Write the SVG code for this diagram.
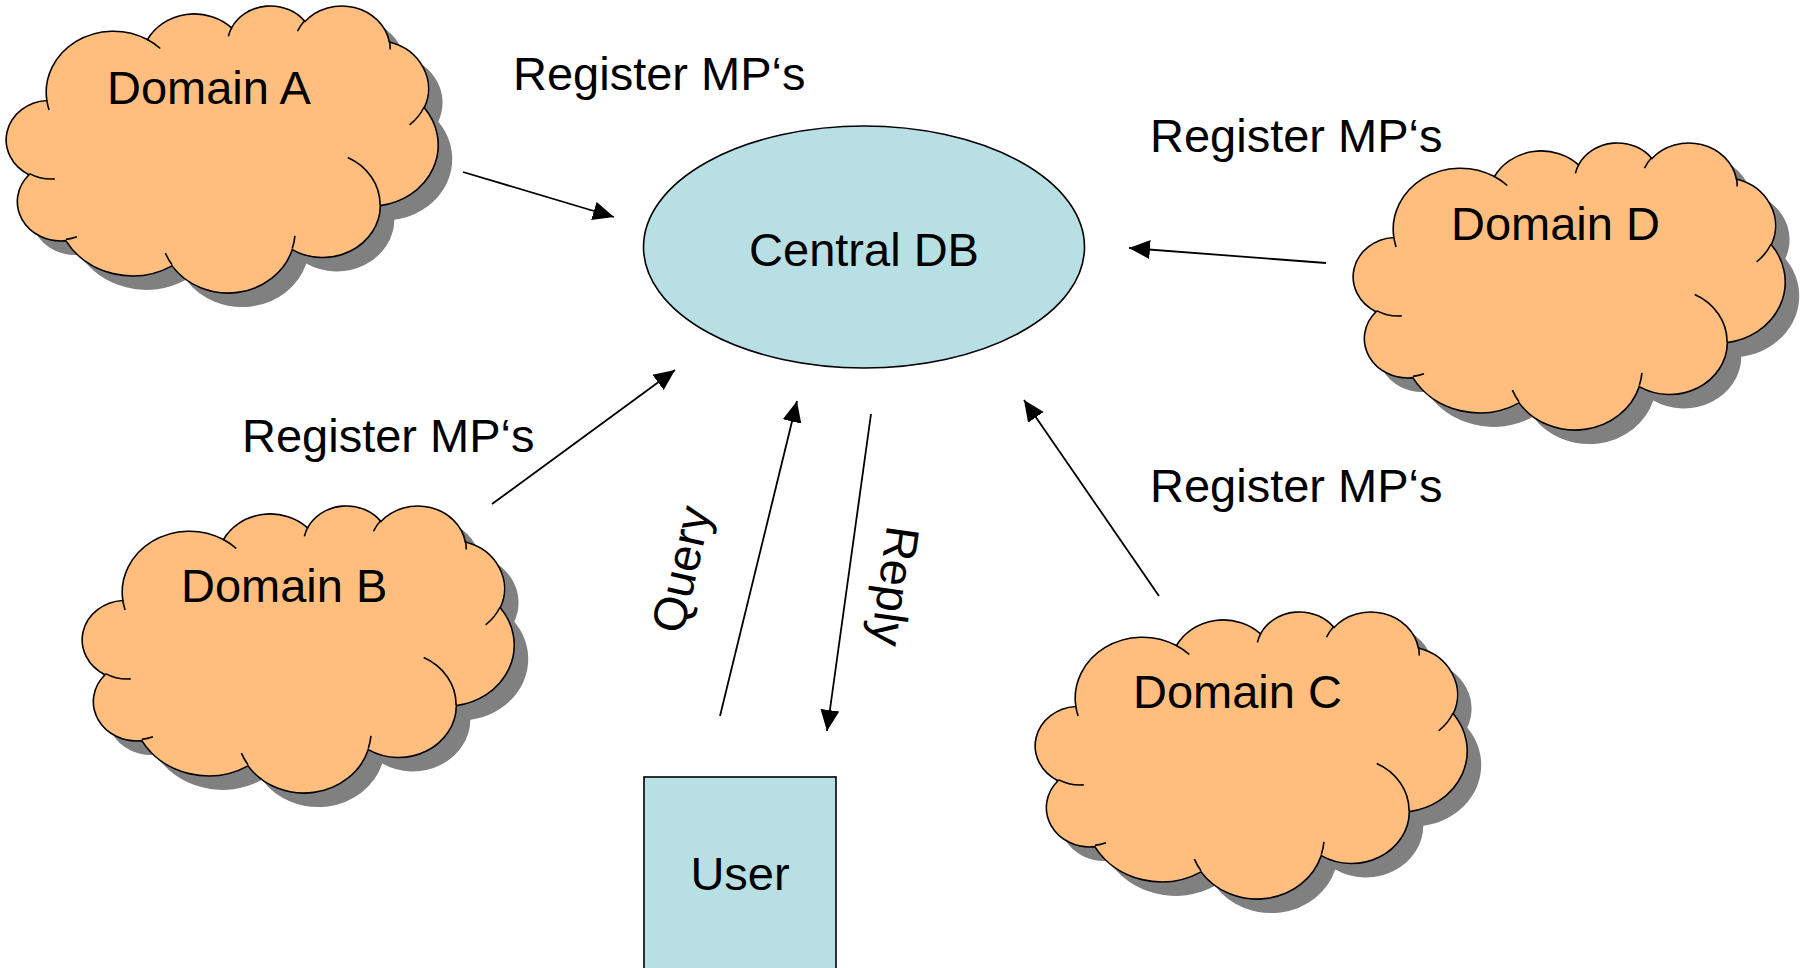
<svg xmlns="http://www.w3.org/2000/svg" xmlns:xlink="http://www.w3.org/1999/xlink" width="1804" height="968" viewBox="0 0 1804 968">
<style>
  text { font-family: "Liberation Sans", Arial, sans-serif; fill: #000; }
  .lbl { font-size: 47px; }
  .rot { font-size: 47px; }
  .cloud { fill: #FFBE7D; stroke: #000; stroke-width: 1.6; }
  .shadow { fill: #808080; stroke: none; }
  .crease { fill: none; stroke: #000; stroke-width: 1.6; }
  .conn { stroke: #000; stroke-width: 1.8; fill: none; marker-end: url(#arrow); }
  .blue { fill: #B8DFE3; stroke: #000; stroke-width: 1.6; }
</style>
<defs>
  <marker id="arrow" markerUnits="userSpaceOnUse" markerWidth="22" markerHeight="20" refX="21" refY="10" orient="auto">
    <path d="M0,0.5 L21,10 L0,19.5 z" fill="#000"/>
  </marker>
  <path id="cloudShape" vector-effect="non-scaling-stroke" d="M3900 14370 A6753 9190 0 0 1 14006 5203 A5333 7267 0 0 1 22460 3434 A4365 5945 0 0 1 29836 2483 A4857 6595 0 0 1 38321 5578 A5333 7273 0 0 1 41821 15462 A6775 9220 0 0 1 37406 30203 A5785 7867 0 0 1 28559 36814 A6752 9215 0 0 1 16483 39267 A7720 10543 0 0 1 5807 35472 A4360 5918 0 0 1 2115 25550 A4345 5945 0 0 1 3900 14370 Z"/>
  <path id="cloudCreases" vector-effect="non-scaling-stroke" d="M4693 26177 A4345 5945 0 0 1 2159 25379 M6928 34899 A4360 5918 0 0 1 5820 35281 M16478 39090 A6752 9215 0 0 1 15810 37349 M28827 34751 A6752 9215 0 0 1 28561 36659 M34129 22954 A5785 7867 0 0 1 37380 30089 M41798 15354 A5333 7273 0 0 1 40350 18031 M38324 5426 A4857 6595 0 0 1 38400 6690 M29078 3952 A4857 6595 0 0 1 29820 2340 M22141 4720 A4365 5945 0 0 1 22500 3330 M14000 5192 A6753 9190 0 0 1 15302 6544 M4127 15789 A6753 9190 0 0 1 3900 14371"/>
</defs>

<g id="domain-a">
  <use xlink:href="#cloudShape" class="shadow" transform="translate(22,19) scale(0.0099537,0.0066435)"/>
  <use xlink:href="#cloudShape" class="cloud" transform="translate(8,5) scale(0.0099537,0.0066435)"/>
  <use xlink:href="#cloudCreases" class="crease" transform="translate(8,5) scale(0.0099537,0.0066435)"/>
  <text class="lbl" x="107" y="104">Domain A</text>
</g>

<g id="domain-d">
  <use xlink:href="#cloudShape" class="shadow" transform="translate(1369,156) scale(0.0099537,0.0066435)"/>
  <use xlink:href="#cloudShape" class="cloud" transform="translate(1355,142) scale(0.0099537,0.0066435)"/>
  <use xlink:href="#cloudCreases" class="crease" transform="translate(1355,142) scale(0.0099537,0.0066435)"/>
  <text class="lbl" x="1451" y="240">Domain D</text>
</g>

<g id="domain-b">
  <use xlink:href="#cloudShape" class="shadow" transform="translate(98,519) scale(0.0099537,0.0066435)"/>
  <use xlink:href="#cloudShape" class="cloud" transform="translate(84,505) scale(0.0099537,0.0066435)"/>
  <use xlink:href="#cloudCreases" class="crease" transform="translate(84,505) scale(0.0099537,0.0066435)"/>
  <text class="lbl" x="181" y="602">Domain B</text>
</g>

<g id="domain-c">
  <use xlink:href="#cloudShape" class="shadow" transform="translate(1051,625) scale(0.0099537,0.0066435)"/>
  <use xlink:href="#cloudShape" class="cloud" transform="translate(1037,611) scale(0.0099537,0.0066435)"/>
  <use xlink:href="#cloudCreases" class="crease" transform="translate(1037,611) scale(0.0099537,0.0066435)"/>
  <text class="lbl" x="1133" y="708">Domain C</text>
</g>

<g id="central-db">
  <ellipse class="blue" cx="864" cy="247" rx="220.5" ry="121"/>
  <text class="lbl" x="864" y="266" text-anchor="middle">Central DB</text>
</g>

<g id="user">
  <rect class="blue" x="644" y="777" width="192" height="210"/>
  <text class="lbl" x="740" y="890" text-anchor="middle">User</text>
</g>

<g id="connectors">
  <line class="conn" x1="463" y1="172" x2="614" y2="217"/>
  <line class="conn" x1="1326" y1="263" x2="1129" y2="248"/>
  <line class="conn" x1="492" y1="504" x2="675" y2="370"/>
  <line class="conn" x1="1159" y1="596" x2="1024" y2="400"/>
  <line class="conn" x1="720" y1="716" x2="797" y2="401"/>
  <line class="conn" x1="871" y1="414" x2="827" y2="731"/>
</g>

<g id="labels">
  <text class="lbl" x="513" y="90">Register MP‘s</text>
  <text class="lbl" x="1150" y="152">Register MP‘s</text>
  <text class="lbl" x="242" y="452">Register MP‘s</text>
  <text class="lbl" x="1150" y="502">Register MP‘s</text>
  <text class="rot" text-anchor="middle" transform="translate(697,573) rotate(-77)">Query</text>
  <text class="rot" text-anchor="middle" transform="translate(879,584) rotate(98)">Reply</text>
</g>
</svg>
